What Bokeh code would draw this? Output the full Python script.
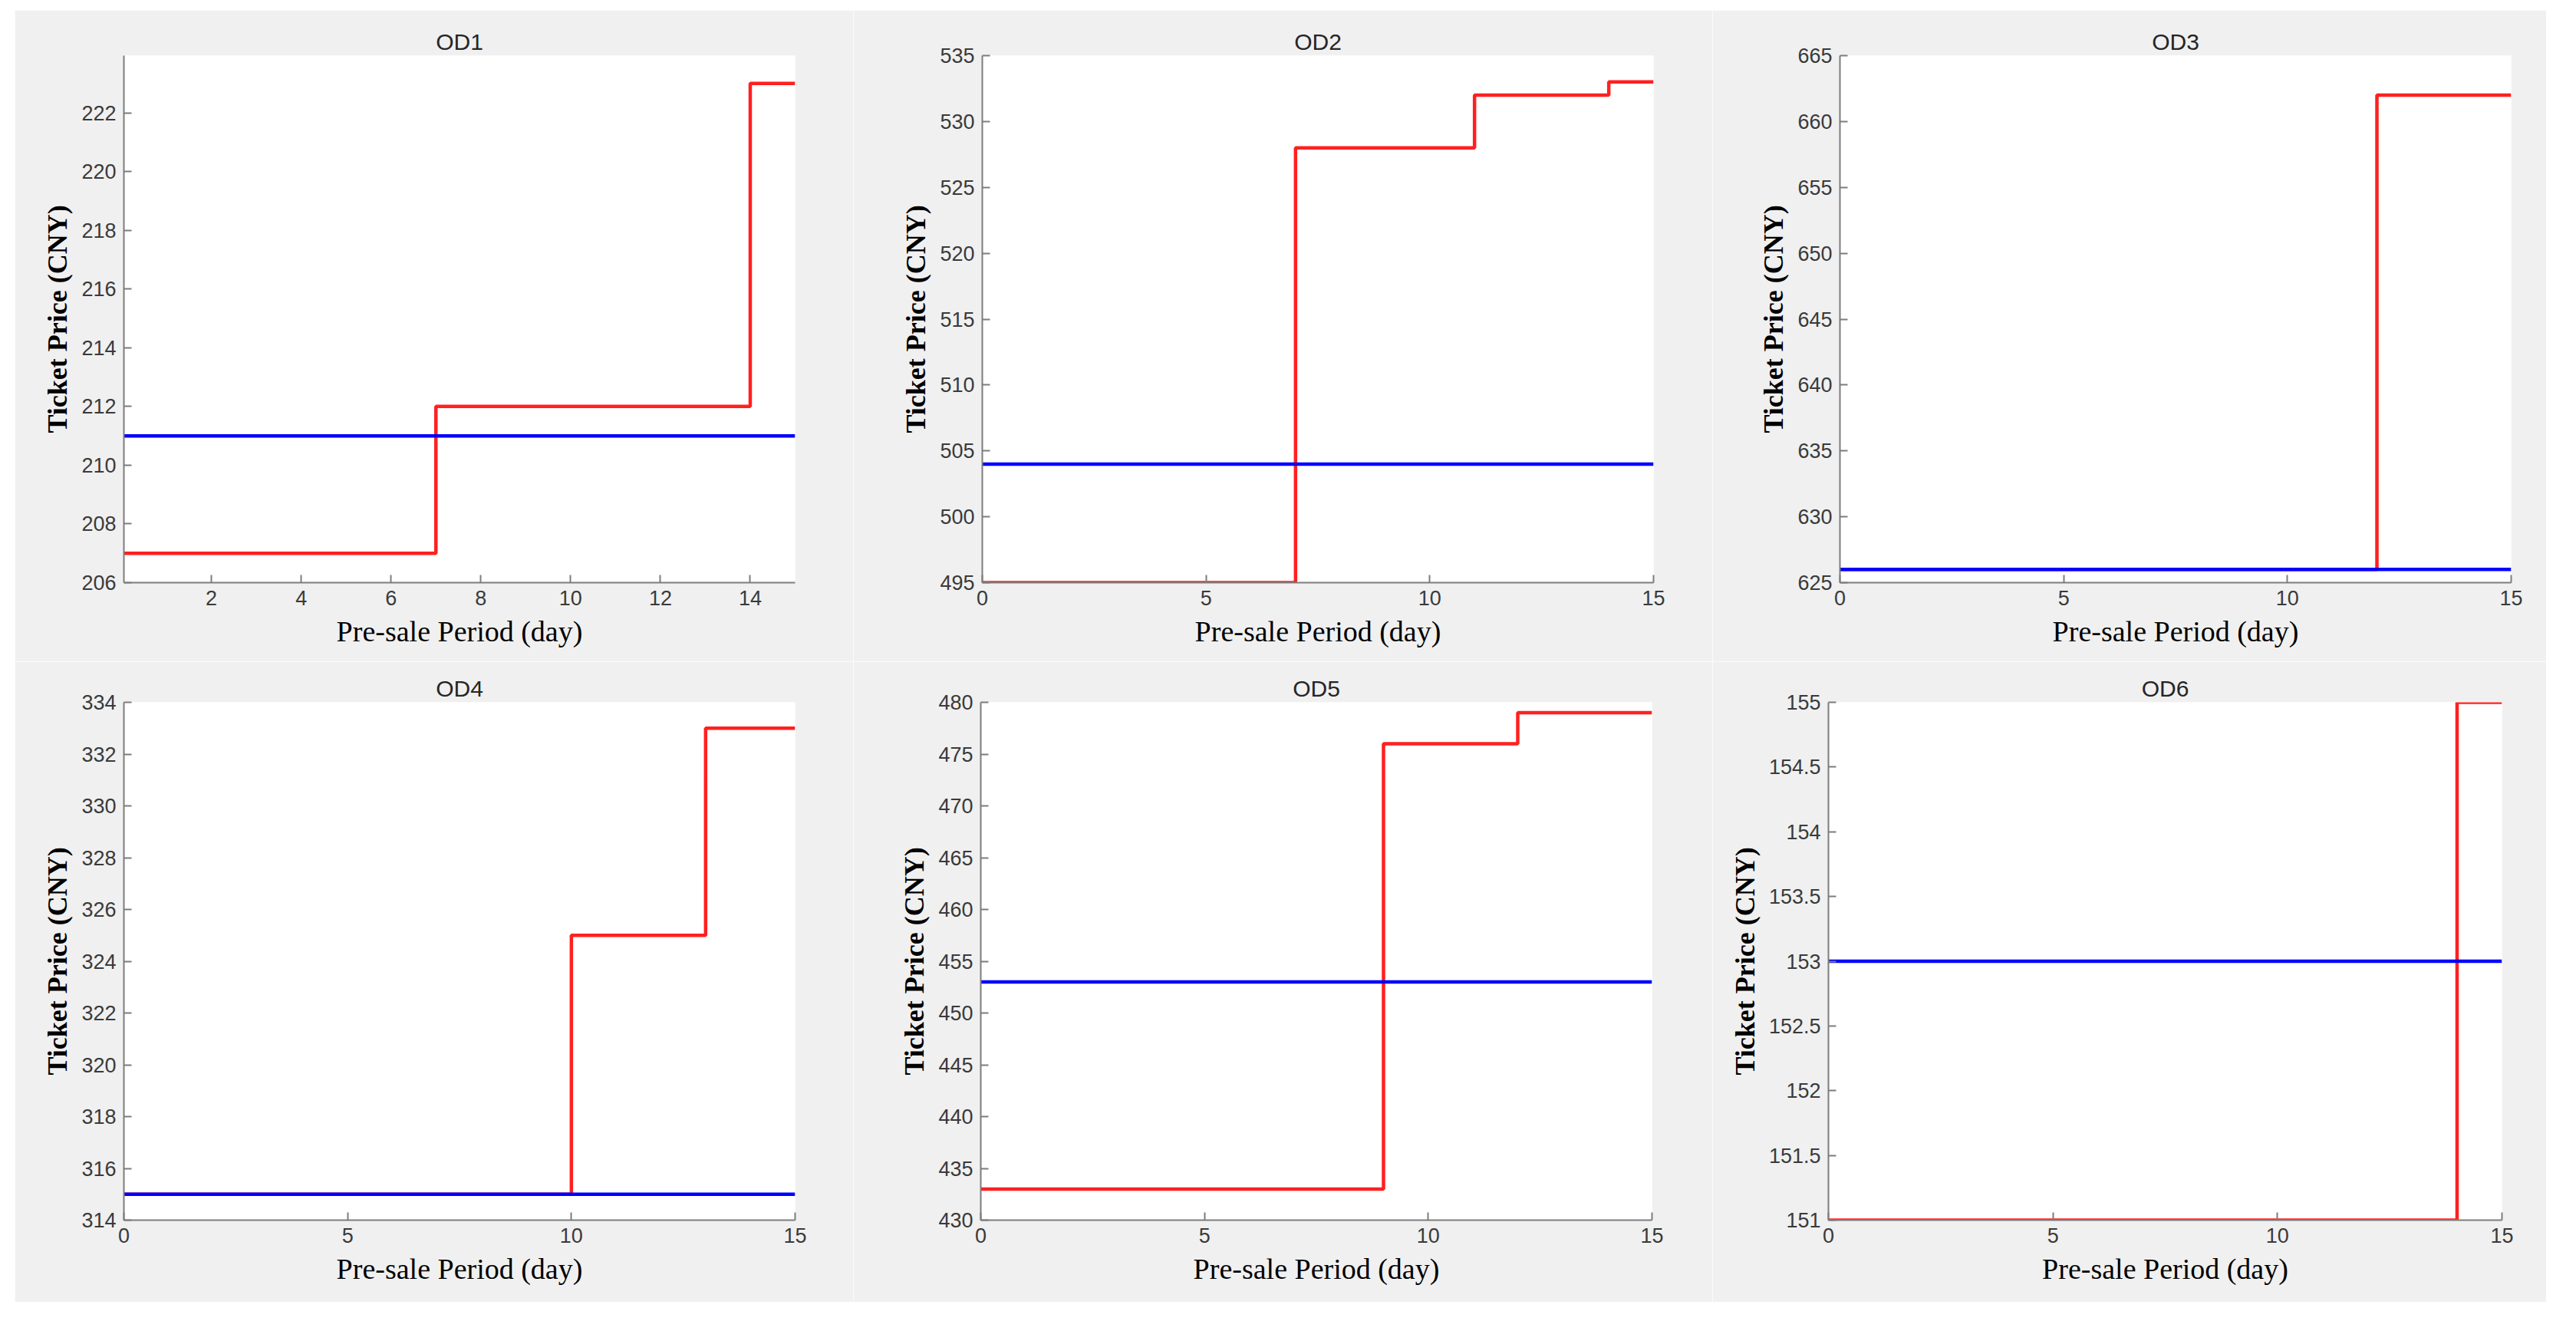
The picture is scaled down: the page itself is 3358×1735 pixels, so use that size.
from bokeh.plotting import figure
from bokeh.layouts import column, row, Spacer
from bokeh.models import FixedTicker, Range1d
from bokeh.embed import file_html
from bokeh.resources import INLINE

# ---------------- data ----------------
titles = ["OD1", "OD2", "OD3", "OD4", "OD5", "OD6"]

# dynamic (red) price: day breakpoints and price held from that day on
od1_days = [0, 7, 14, 15]
od1_dynamic = [207, 212, 223, 223]
od2_days = [0, 7, 11, 14, 15]
od2_dynamic = [495, 528, 532, 533, 533]
od3_days = [0, 12, 15]
od3_dynamic = [626, 662, 662]
od4_days = [0, 10, 13, 15]
od4_dynamic = [315, 325, 333, 333]
od5_days = [0, 9, 12, 15]
od5_dynamic = [433, 476, 479, 479]
od6_days = [0, 14, 15]
od6_dynamic = [151, 155, 155]

# fixed (blue) price
fixed_days = [0, 15]
od1_fixed = [211, 211]
od2_fixed = [504, 504]
od3_fixed = [626, 626]
od4_fixed = [315, 315]
od5_fixed = [453, 453]
od6_fixed = [153, 153]

# axis limits and ticks
od1_xlim = (0.05, 15)
od_xlim = (0, 15)
od1_ylim = (206, 223.95)
od2_ylim = (495, 535)
od3_ylim = (625, 665)
od4_ylim = (314, 334)
od5_ylim = (430, 480)
od6_ylim = (151, 155)

od1_xticks = [2, 4, 6, 8, 10, 12, 14]
od_xticks = [0, 5, 10, 15]
od1_yticks = [206, 208, 210, 212, 214, 216, 218, 220, 222]
od2_yticks = [495, 500, 505, 510, 515, 520, 525, 530, 535]
od3_yticks = [625, 630, 635, 640, 645, 650, 655, 660, 665]
od4_yticks = [314, 316, 318, 320, 322, 324, 326, 328, 330, 332, 334]
od5_yticks = [430, 435, 440, 445, 450, 455, 460, 465, 470, 475, 480]
od6_yticks = [151, 151.5, 152, 152.5, 153, 153.5, 154, 154.5, 155]
od6_ylabels = ["151", "151.5", "152", "152.5", "153", "153.5", "154", "154.5", "155"]

x_label = "Pre-sale Period (day)"
y_label = "Ticket Price (CNY)"

panels = [
    (titles[0], od1_days, od1_dynamic, od1_fixed, od1_xlim, od1_ylim, od1_xticks, od1_yticks, None),
    (titles[1], od2_days, od2_dynamic, od2_fixed, od_xlim, od2_ylim, od_xticks, od2_yticks, None),
    (titles[2], od3_days, od3_dynamic, od3_fixed, od_xlim, od3_ylim, od_xticks, od3_yticks, None),
    (titles[3], od4_days, od4_dynamic, od4_fixed, od_xlim, od4_ylim, od_xticks, od4_yticks, None),
    (titles[4], od5_days, od5_dynamic, od5_fixed, od_xlim, od5_ylim, od_xticks, od5_yticks, None),
    (titles[5], od6_days, od6_dynamic, od6_fixed, od_xlim, od6_ylim, od_xticks, od6_yticks, od6_ylabels),
]

# ---------------- layout (width, height, left, right, top, bottom) ----------------
geometry = [
    (1093, 849, 142, 76, 54, 103),
    (1120, 849, 168, 77, 59, 98),
    (1087, 849, 166, 46, 59, 99),
    (1093, 835, 142, 76, 43, 106),
    (1120, 835, 166, 79, 39, 107),
    (1087, 835, 151, 58, 53, 95),
]

BG = "#f0f0f0"
AX = "#7d7d7d"


def fmt(v):
    return str(int(v)) if float(v).is_integer() else str(v)


def make_panel(spec, geo):
    title, days, dyn, fix, xlim, ylim, xticks, yticks, ylabels = spec
    w, h, ml, mr, mt, mb = geo
    p = figure(width=w, height=h, output_backend="svg", toolbar_location=None,
               x_range=Range1d(*xlim), y_range=Range1d(*ylim),
               min_border_left=ml, min_border_right=mr,
               min_border_top=mt, min_border_bottom=mb,
               title=title)
    p.background_fill_color = "white"
    p.border_fill_color = BG
    p.outline_line_color = None
    p.xgrid.visible = False
    p.ygrid.visible = False

    p.title.align = "center"
    p.title.text_font = "Liberation Sans"
    p.title.text_font_size = "30px"
    p.title.text_font_style = "normal"
    p.title.text_color = "#262626"
    p.title.standoff = 4

    p.step(days, dyn, mode="after", line_color="#ff2020", line_width=4.5)
    p.line(fixed_days, fix, line_color="#0000ff", line_width=4.5)

    p.xaxis.ticker = FixedTicker(ticks=xticks)
    p.yaxis.ticker = FixedTicker(ticks=yticks)
    labs = ylabels if ylabels else [fmt(v) for v in yticks]
    p.yaxis.major_label_overrides = {v: s for v, s in zip(yticks, labs)}
    p.xaxis.major_label_overrides = {v: fmt(v) for v in xticks}

    for ax in (p.xaxis[0], p.yaxis[0]):
        ax.axis_line_color = AX
        ax.axis_line_width = 2
        ax.major_tick_in = 10
        ax.major_tick_out = 0
        ax.major_tick_line_color = AX
        ax.major_tick_line_width = 2
        ax.minor_tick_line_color = None
        ax.major_label_text_font = "Liberation Sans"
        ax.major_label_text_font_size = "27px"
        ax.major_label_text_color = "#3a3a3a"
        ax.major_label_standoff = 10
        ax.axis_label_text_font = "Liberation Serif"
        ax.axis_label_text_color = "black"
        if "axis_label_background_fill_color" in ax.properties():
            ax.axis_label_background_fill_color = "white"

    p.xaxis.axis_label = x_label
    p.xaxis.axis_label_text_font_size = "38px"
    p.xaxis.axis_label_text_font_style = "normal"
    p.xaxis.axis_label_standoff = 10
    p.yaxis.axis_label = y_label
    p.yaxis.axis_label_text_font_size = "36px"
    p.yaxis.axis_label_text_font_style = "bold"
    p.yaxis.axis_label_standoff = 8
    return p


figs = [make_panel(s, g) for s, g in zip(panels, geometry)]

layout = column(
    Spacer(height=13),
    row(Spacer(width=19), figs[0], figs[1], figs[2]),
    row(Spacer(width=19), figs[3], figs[4], figs[5]),
)

open("out.html", "w").write(file_html(layout, INLINE))
